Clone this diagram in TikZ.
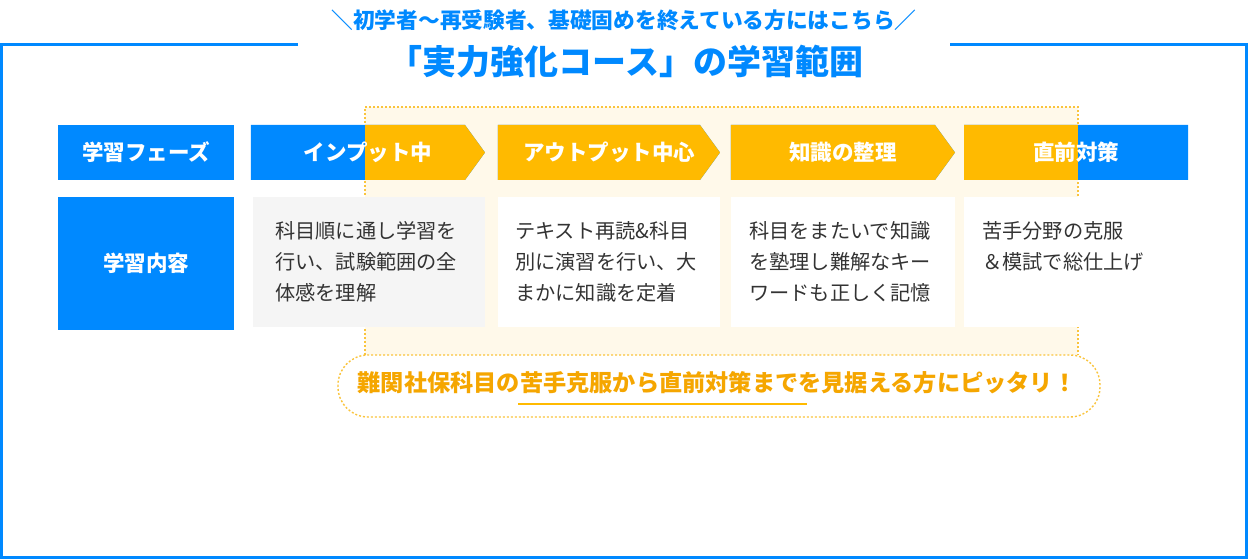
\documentclass[tikz,border=0pt]{standalone}
\usepackage{fontspec}
\setmainfont{Noto Sans CJK JP}
\usepackage{tikz}
\usetikzlibrary{shapes.symbols,positioning}
\definecolor{mainblue}{RGB}{0,137,255}
\definecolor{phaseyellow}{RGB}{255,186,0}
\definecolor{hlcream}{RGB}{255,249,234}
\definecolor{hldot}{RGB}{250,196,60}
\definecolor{pilltext}{RGB}{245,166,0}
\definecolor{bodytext}{RGB}{51,51,51}
\definecolor{boxgray}{RGB}{245,245,245}
\tikzstyle{rowhead}=[fill=mainblue,text=white,font=\bfseries\fontsize{21.5bp}{24bp}\selectfont,minimum width=176bp,inner sep=0pt]
\tikzstyle{phase}=[signal,signal to=east,signal pointer angle=108,fill=mainblue,text=white,font=\bfseries\fontsize{21.5bp}{24bp}\selectfont,minimum width=224bp,minimum height=55bp,inner sep=0pt,path picture={\fill[phaseyellow] (hlnw) rectangle (hlse);}]
\tikzstyle{content}=[fill=white,text=bodytext,font=\fontsize{20.2bp}{31bp}\selectfont,minimum width=232bp,minimum height=130bp,text width=188bp,inner sep=0pt,align=left,anchor=north west]
\tikzstyle{hldash}=[hldot,line width=1.4bp,dash pattern=on 2bp off 2bp]
\newcommand{\tipgap}{\hspace*{20bp}}

\begin{document}
\begin{tikzpicture}[x=1bp,y=-1bp]
  \useasboundingbox (0,0) rectangle (1248,560);
  \draw[mainblue,line width=3bp] (298,45) -- (1.5,45) -- (1.5,557.5) -- (1246.5,557.5) -- (1246.5,45) -- (950,45);
  \node[text=mainblue,font=\bfseries\fontsize{21.7bp}{24bp}\selectfont] at (624,20) (subtitle) {＼初学者〜再受験者、基礎固めを終えている方にはこちら／};
  \node[text=mainblue,font=\bfseries\fontsize{34bp}{38bp}\selectfont] at (626,62) (title) {「実力強化コース」の学習範囲};

  \coordinate (hlnw) at (365,107);
  \coordinate (hlse) at (1078,355);
  \fill[hlcream] (hlnw) rectangle (hlse);
  \draw[hldash] (365,355) -- (hlnw) -- (1078,107) -- (1078,355);
  \draw[hldash,fill=white,rounded corners=30bp] (338,355) rectangle (1100,417);

  \node[rowhead,minimum height=55bp] at (146,152.5) (phasehead) {学習フェーズ};
  \node[rowhead,minimum height=133bp] at (146,263.5) (conthead) {学習内容};

  \node[phase,minimum width=234bp] at (358,152.5) (phase1) {\tipgap インプット中};
  \node[phase,minimum width=222bp] at (599,152.5) (phase2) {\tipgap アウトプット中心};
  \node[phase] at (833,152.5) (phase3) {\tipgap 知識の整理};
  \node[phase,signal to=nowhere] at (1076,152.5) (phase4) {直前対策};

  \node[content,fill=boxgray] at (253,197) (cont1) {科目順に通し学習を\\行い、試験範囲の全\\体感を理解};
  \node[content,minimum width=222bp] at (498,197) (cont2) {テキスト再読\&科目\\別に演習を行い、大\\まかに知識を定着};
  \node[content,minimum width=224bp] at (731,197) (cont3) {科目をまたいで知識\\を塾理し難解なキー\\ワードも正しく記憶};
  \node[content,minimum width=224bp] at (964,197) (cont4) {苦手分野の克服\\＆模試で総仕上げ\\\phantom{苦}};

  \node[text=pilltext,font=\bfseries\fontsize{23.2bp}{26bp}\selectfont] at (717,383) (catch) {難関社保科目の苦手克服から直前対策までを見据える方にピッタリ！};
  \draw[phaseyellow,line width=2bp] (518,404) -- (807,404);
\end{tikzpicture}
\end{document}
